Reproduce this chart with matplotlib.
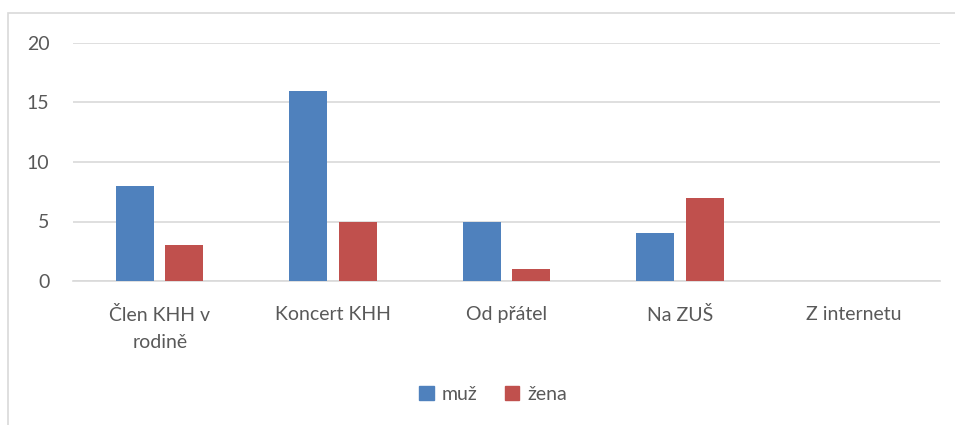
import numpy as np
import matplotlib.pyplot as plt
from matplotlib.patches import Rectangle, Patch

# data
categories = ["Člen KHH v\nrodině", "Koncert KHH", "Od přátel", "Na ZUŠ", "Z internetu"]
muz = [8, 16, 5, 4, 0]
zena = [3, 5, 1, 7, 0]

blue = "#4F81BD"
red = "#C0504D"
txt = "#595959"

plt.rcParams['font.family'] = ['Lato', 'DejaVu Sans']

fig = plt.figure(figsize=(9.55, 4.25), dpi=100)
# chart frame (cropped like the original)
fig.patches.append(Rectangle((8 / 955, -0.1), 1.2, 1 - 13 / 425 + 0.1,
                             transform=fig.transFigure, fill=False,
                             edgecolor="#D9D9D9", linewidth=1.2))

ax = fig.add_axes([73 / 955, 1 - 281 / 425, (940 - 73) / 955, (281 - 43) / 425])

x = np.arange(len(categories))
w = 0.22
off = 0.1425
ax.bar(x - off, muz, w, color=blue, zorder=3)
ax.bar(x + off, zena, w, color=red, zorder=3)

ax.set_xlim(-0.5, len(categories) - 0.5)
ax.set_ylim(0, 20)
ax.set_yticks([0, 5, 10, 15, 20])
ax.yaxis.grid(True, color="#D9D9D9", linewidth=1.2, zorder=0)
for s in ax.spines.values():
    s.set_visible(False)
ax.spines['bottom'].set_visible(True)
ax.spines['bottom'].set_color("#D9D9D9")
ax.spines['bottom'].set_linewidth(1.2)
ax.tick_params(axis='both', length=0, colors=txt, labelsize=14)
ax.tick_params(axis='y', pad=17)
ax.tick_params(axis='x', pad=18)
ax.set_xticks(x)
ax.set_xticklabels(categories, linespacing=1.75)

handles = [Patch(color=blue, label="muž"), Patch(color=red, label="žena")]
fig.legend(handles=handles, loc='center', bbox_to_anchor=(493 / 955, 1 - 394 / 425),
           ncol=2, frameon=False, fontsize=14, labelcolor=txt,
           handlelength=0.75, handleheight=0.75, handletextpad=0.4, columnspacing=1.4)

fig.savefig("out.png", dpi=100)
